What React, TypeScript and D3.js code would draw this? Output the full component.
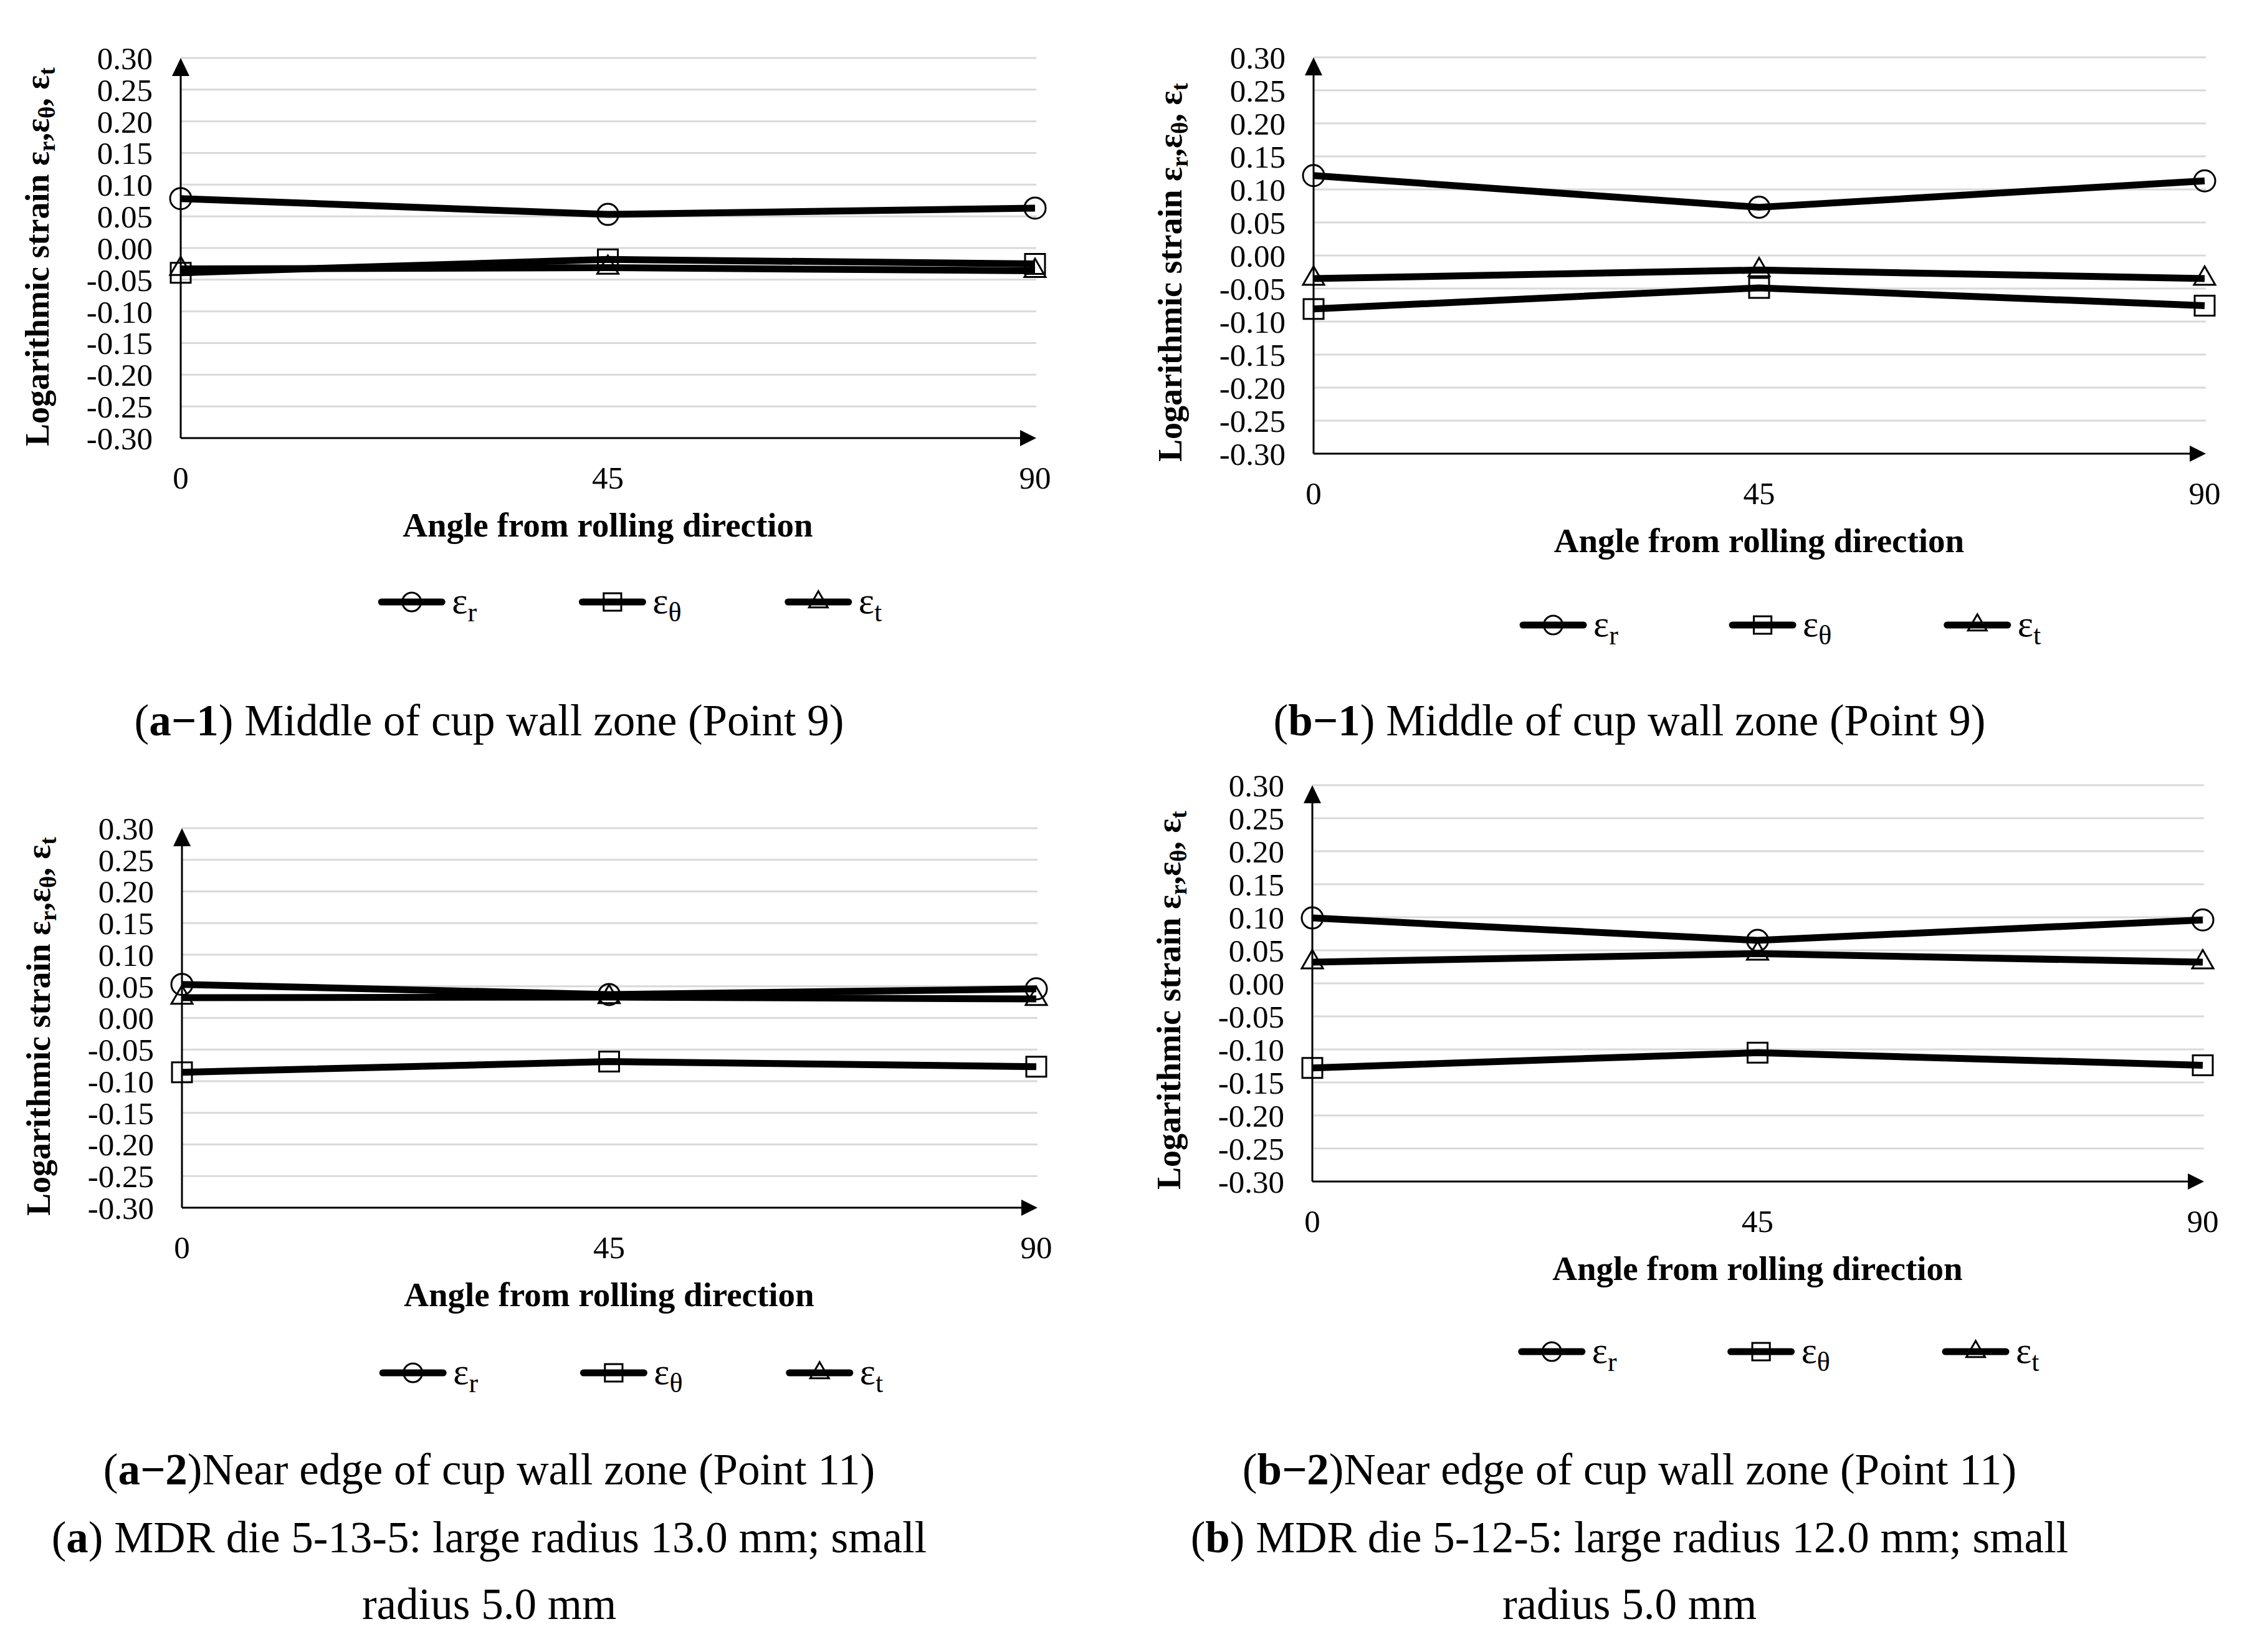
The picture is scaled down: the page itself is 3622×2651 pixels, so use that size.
import React from 'react';
import * as d3 from 'd3';

// ---------- data ----------
const angles = [0, 45, 90];
const angleLabels = ['0', '45', '90'];
const yTickValues = [0.3, 0.25, 0.2, 0.15, 0.1, 0.05, 0, -0.05, -0.1, -0.15, -0.2, -0.25, -0.3];
const seriesSubs = ['r', 'θ', 't'];
const seriesMarkers = ['circle', 'square', 'triangle'];

// (a-1) Middle of cup wall zone, die 5-13-5
const a1Radial = [0.078, 0.053, 0.063];
const a1Hoop = [-0.039, -0.018, -0.025];
const a1Thick = [-0.033, -0.031, -0.036];
// (b-1) Middle of cup wall zone, die 5-12-5
const b1Radial = [0.121, 0.073, 0.113];
const b1Hoop = [-0.081, -0.049, -0.076];
const b1Thick = [-0.035, -0.022, -0.035];
// (a-2) Near edge of cup wall zone, die 5-13-5
const a2Radial = [0.053, 0.037, 0.046];
const a2Hoop = [-0.086, -0.069, -0.077];
const a2Thick = [0.032, 0.033, 0.030];
// (b-2) Near edge of cup wall zone, die 5-12-5
const b2Radial = [0.099, 0.065, 0.096];
const b2Hoop = [-0.128, -0.105, -0.124];
const b2Thick = [0.032, 0.045, 0.032];

const yAxisTitle = 'Logarithmic strain ε';
const xAxisTitle = 'Angle from rolling direction';

const fmt = d3.formatLocale({ decimal: '.', thousands: ',', grouping: [3], currency: ['', ''], minus: '-' }).format('.2f');

const SERIF = '"Liberation Serif", "Times New Roman", serif';

type PanelProps = {
  series: number[][];
  axisX: number;
  x90: number;
  top: number;
  bottom: number;
  legendY: number;
};

function Marker({ kind, x, y, s }: { kind: string; x: number; y: number; s: number }) {
  if (kind === 'circle') {
    return <circle cx={x} cy={y} r={s / 2} fill="none" stroke="#000" strokeWidth={3} />;
  }
  const sym = kind === 'square' ? d3.symbolSquare : d3.symbolTriangle;
  const size = kind === 'square' ? (s * 0.94) ** 2 : (Math.sqrt(3) / 4) * s * s;
  const d = d3.symbol().type(sym).size(size)() as string;
  return <path d={d} transform={`translate(${x},${y})`} fill="none" stroke="#000" strokeWidth={3} />;
}

function Panel({ series, axisX, x90, top, bottom, legendY }: PanelProps) {
  const x = d3.scaleLinear().domain([0, 90]).range([axisX, x90]);
  const y = d3.scaleLinear().domain([-0.3, 0.3]).range([bottom, top]);
  const line = d3
    .line<number>()
    .x((_, i) => x(angles[i]))
    .y((v) => y(v));
  const plotW = x90 - axisX;
  const legendFrac = [0.235, 0.47, 0.711];
  return (
    <g>
      {/* gridlines */}
      {yTickValues
        .filter((t) => t > -0.3)
        .map((t) => (
          <line key={'g' + t} x1={axisX} x2={x90 + 2} y1={y(t)} y2={y(t)} stroke="#d9d9d9" strokeWidth={3} />
        ))}
      {/* y tick labels */}
      {yTickValues.map((t) => (
        <text key={'t' + t} x={axisX - 45} y={y(t)} dy="0.35em" textAnchor="end" fontSize={51} fontFamily={SERIF}>
          {fmt(t)}
        </text>
      ))}
      {/* axes */}
      <line x1={axisX} x2={axisX} y1={bottom} y2={top + 20} stroke="#000" strokeWidth={3} />
      <path d={`M${axisX},${top} L${axisX - 14},${top + 29} L${axisX + 14},${top + 29} Z`} fill="#000" />
      <line x1={axisX} x2={x90 - 20} y1={bottom} y2={bottom} stroke="#000" strokeWidth={3} />
      <path d={`M${x90 + 2},${bottom} L${x90 - 24},${bottom - 13} L${x90 - 24},${bottom + 13} Z`} fill="#000" />
      {/* x tick labels */}
      {angles.map((a, i) => (
        <text key={'x' + a} x={x(a)} y={bottom + 81} textAnchor="middle" fontSize={51} fontFamily={SERIF}>
          {angleLabels[i]}
        </text>
      ))}
      {/* x title */}
      <text x={(axisX + x90) / 2} y={bottom + 158} textAnchor="middle" fontSize={55} fontWeight="bold" fontFamily={SERIF}>
        {xAxisTitle}
      </text>
      {/* y title */}
      <text
        transform={`translate(${axisX - 212},${bottom + 13}) rotate(-90)`}
        fontSize={54}
        fontWeight="bold"
        fontFamily={SERIF}
      >
        {yAxisTitle}
        <tspan fontSize={37} dy={10}>r</tspan>
        <tspan dy={-10}>,ε</tspan>
        <tspan fontSize={37} dy={10}>θ</tspan>
        <tspan dy={-10}>, ε</tspan>
        <tspan fontSize={37} dy={10}>t</tspan>
      </text>
      {/* series */}
      {series.map((vals, si) => (
        <g key={'s' + si}>
          <path d={line(vals) as string} fill="none" stroke="#000" strokeWidth={11} strokeLinejoin="round" />
          {vals.map((v, i) => (
            <Marker key={i} kind={seriesMarkers[si]} x={x(angles[i])} y={y(v)} s={34} />
          ))}
        </g>
      ))}
      {/* legend */}
      {seriesSubs.map((sub, si) => {
        const lx = axisX + legendFrac[si] * plotW;
        return (
          <g key={'l' + si}>
            <line x1={lx} x2={lx + 97} y1={legendY} y2={legendY} stroke="#000" strokeWidth={11} strokeLinecap="round" />
            <Marker kind={seriesMarkers[si]} x={lx + 48.5} y={legendY} s={30} />
            <text x={lx + 113} y={legendY + 18} fontSize={60} fontFamily={SERIF}>
              ε<tspan fontSize={44} dy={13}>{sub}</tspan>
            </text>
          </g>
        );
      })}
    </g>
  );
}

function Caption({ x, y, label, rest, sep }: { x: number; y: number; label: string; rest: string; sep?: string }) {
  return (
    <text x={x} y={y} textAnchor="middle" fontSize={71} fontFamily={SERIF}>
      (<tspan fontWeight="bold">{label}</tspan>){sep ?? ''}
      {rest}
    </text>
  );
}

export default function App() {
  return (
    <svg
      width={3622}
      height={2651}
      viewBox="0 0 3622 2651"
      style={{ position: 'absolute', left: 0, top: 0, background: '#fff' }}
    >
      <rect width={3622} height={2651} fill="#fff" />
      <Panel series={[a1Radial, a1Hoop, a1Thick]} axisX={290} x90={1661} top={93} bottom={703} legendY={966} />
      <Panel series={[b1Radial, b1Hoop, b1Thick]} axisX={2108} x90={3538} top={92} bottom={728} legendY={1003} />
      <Panel series={[a2Radial, a2Hoop, a2Thick]} axisX={292} x90={1663} top={1329} bottom={1938} legendY={2203} />
      <Panel series={[b2Radial, b2Hoop, b2Thick]} axisX={2106} x90={3535} top={1260} bottom={1896} legendY={2169} />

      <Caption x={785} y={1180} label="a−1" sep=" " rest="Middle of cup wall zone (Point 9)" />
      <Caption x={2615} y={1180} label="b−1" sep=" " rest="Middle of cup wall zone (Point 9)" />
      <Caption x={785} y={2382} label="a−2" rest="Near edge of cup wall zone (Point 11)" />
      <Caption x={2615} y={2382} label="b−2" rest="Near edge of cup wall zone (Point 11)" />
      <Caption x={785} y={2491} label="a" sep=" " rest="MDR die 5-13-5: large radius 13.0 mm; small" />
      <Caption x={2615} y={2491} label="b" sep=" " rest="MDR die 5-12-5: large radius 12.0 mm; small" />
      <text x={785} y={2598} textAnchor="middle" fontSize={71} fontFamily={SERIF}>radius 5.0 mm</text>
      <text x={2615} y={2598} textAnchor="middle" fontSize={71} fontFamily={SERIF}>radius 5.0 mm</text>
    </svg>
  );
}
